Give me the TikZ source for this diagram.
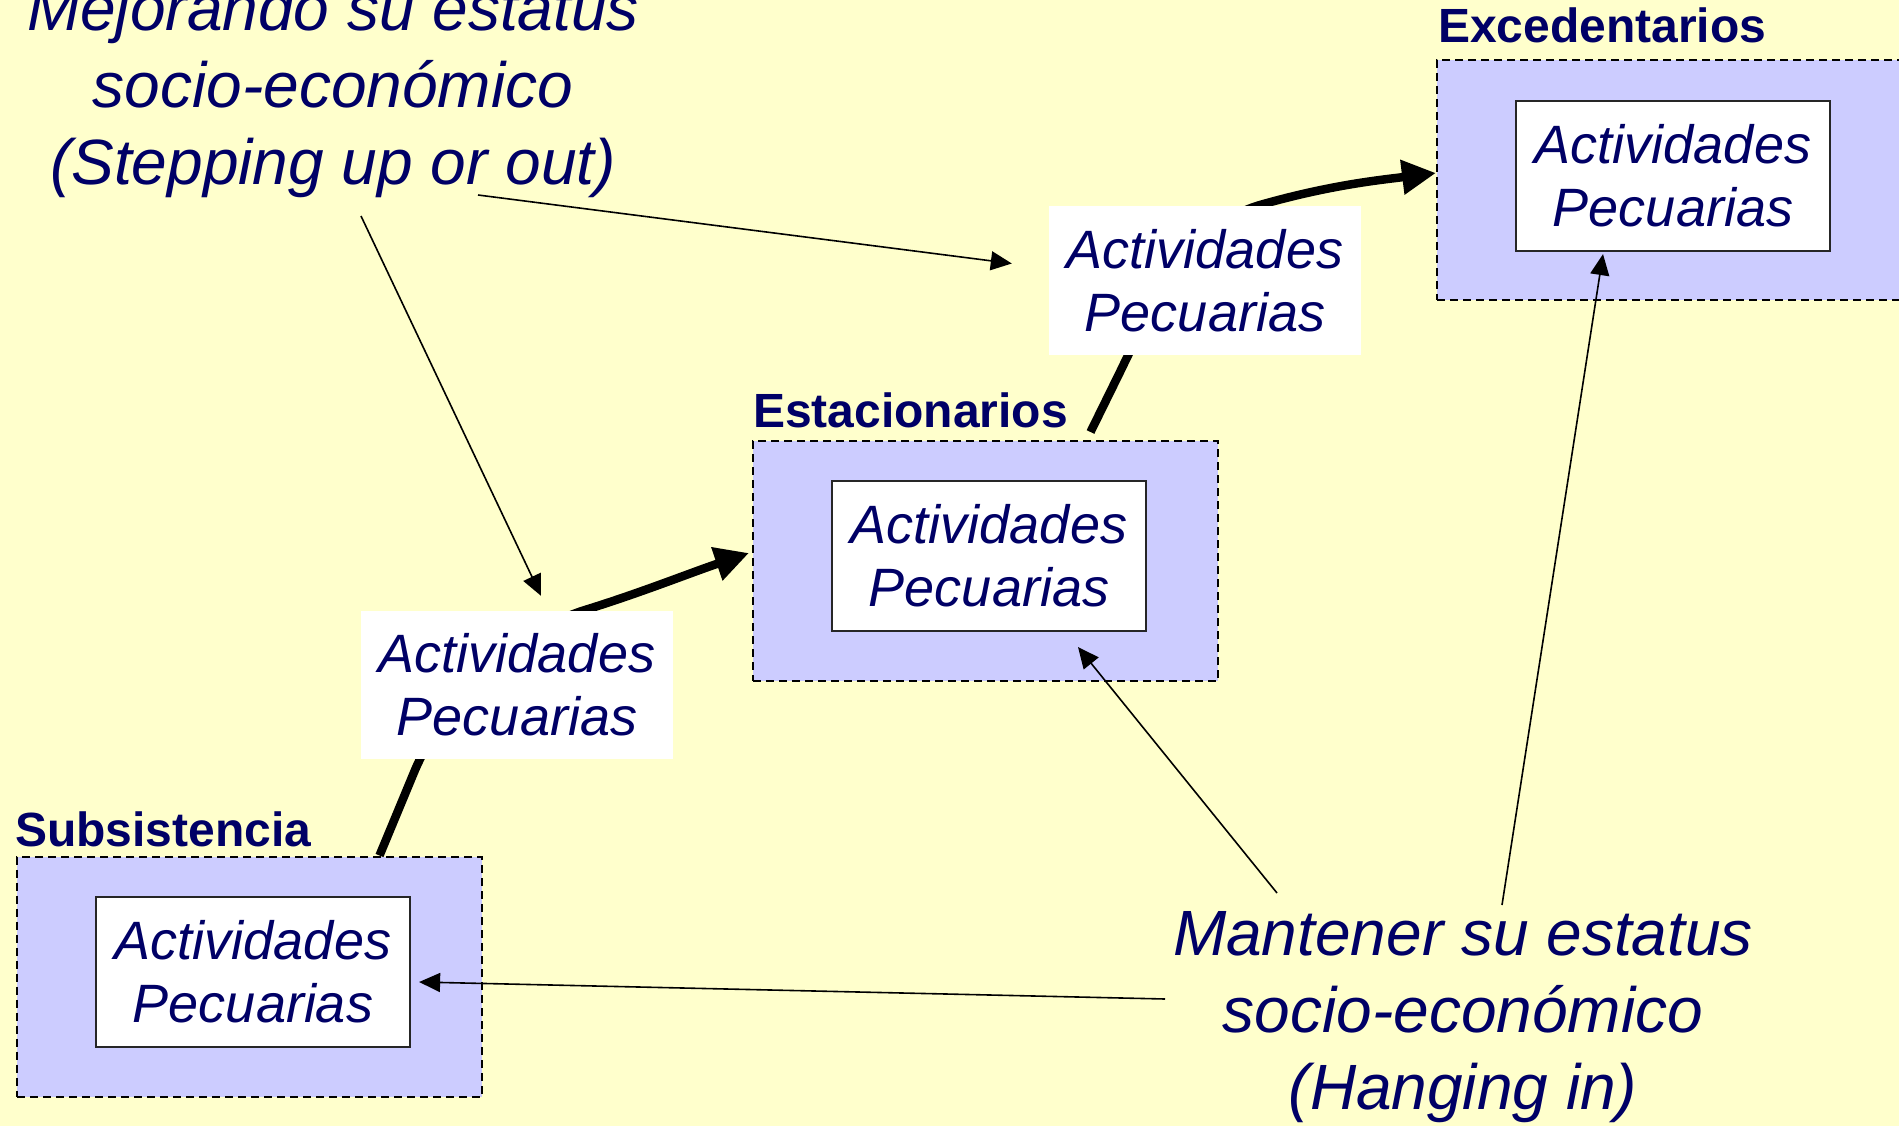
\documentclass[tikz,border=0pt]{standalone}
\usepackage{fontspec}
\setmainfont{Liberation Sans}
\usetikzlibrary{arrows.meta,calc}
\definecolor{bgyellow}{HTML}{FFFFCC}
\definecolor{boxblue}{HTML}{CCCCFF}
\definecolor{txtnavy}{HTML}{000066}
\tikzset{
  outerbox/.style={draw=black, dash pattern=on 8pt off 5pt, line width=2pt, fill=boxblue,
    minimum width=465pt, minimum height=240pt, inner sep=0pt},
  innerbox/.style={draw=black!85, line width=2.2pt, fill=white, minimum width=314pt,
    minimum height=150pt, inner sep=0pt, align=center, text=txtnavy,
    font=\fontsize{54}{63}\selectfont\itshape},
  floatbox/.style={fill=white, minimum width=312pt, minimum height=148pt, inner sep=0pt,
    align=center, text=txtnavy, font=\fontsize{54}{63}\selectfont\itshape},
  grouplabel/.style={anchor=base west, inner sep=0pt, text=txtnavy,
    font=\fontsize{48}{56}\selectfont\bfseries},
  bigtext/.style={align=center, inner sep=0pt, text=txtnavy,
    font=\fontsize{64}{77}\selectfont\itshape},
  thickarrow/.style={line width=8.5pt, -{Triangle[length=34pt,width=33pt]}},
  thinarrow/.style={line width=1.6pt, -{Triangle[length=21pt,width=19pt]}}
}
\begin{document}
\begin{tikzpicture}[x=1pt,y=-1pt]
\useasboundingbox (0,0) rectangle (1899,1126);
\fill[bgyellow] (0,0) rectangle (1899,1126);

% outer group boxes
\node[outerbox] (sub) at (249.5,976.5) {};
\node[outerbox] (est) at (985.5,561) {};
\node[outerbox] (exc) at (1669.5,180) {};

% inner boxes
\node[innerbox] (subin) at (253,972) {Actividades\\Pecuarias};
\node[innerbox] (estin) at (989,556) {Actividades\\Pecuarias};
\node[innerbox] (excin) at (1673,176) {Actividades\\Pecuarias};

% group labels
\node[grouplabel] (lsub) at (15,846) {Subsistencia};
\node[grouplabel] (lest) at (753,427) {Estacionarios};
\node[grouplabel] (lexc) at (1438,43) {Excedentarios};

% thick curved arrows
\coordinate (s1) at ($(sub.north)+(130,0)$);
\coordinate (e1) at ($(est.west)+(-3,-8)$);
\coordinate (s2) at ($(est.north)+(105,-8)$);
\coordinate (e2) at ($(exc.west)+(0,-7)$);
\draw[thickarrow] (s1) -- (415,770) .. controls (445,700) and (520,630) .. (585,610)
  .. controls (640,593) and (690,573) .. (e1);
\draw[thickarrow] (s2) -- (1120,372) .. controls (1150,310) and (1190,225) .. (1260,205)
  .. controls (1330,185) and (1380,180) .. (e2);

% floating boxes
\node[floatbox] (f1) at (517,685) {Actividades\\Pecuarias};
\node[floatbox] (f2) at (1205,280.5) {Actividades\\Pecuarias};

% big texts
\node[bigtext] (mej) at (333,90.7) {Mejorando su estatus\\socio-económico\\(Stepping up or out)};
\node[bigtext] (man) at (1463,1017) {Mantener su estatus\\socio-económico\\(Hanging in)};

% thin arrows
\coordinate (ma) at (361,216);
\coordinate (mb) at (478,195);
\coordinate (mc) at (1165,999);
\coordinate (md) at (1277,893);
\coordinate (me) at (1502,905);
\coordinate (ta) at ($(f1.north)+(24,-15)$);
\coordinate (tb) at ($(f2.west)+(-37,-17)$);
\coordinate (tc) at ($(subin.east)+(8,10)$);
\coordinate (td) at ($(estin.south)+(89,15)$);
\coordinate (te) at ($(excin.south)+(-70,2)$);
\draw[thinarrow] (ma) -- (ta);
\draw[thinarrow] (mb) -- (tb);
\draw[thinarrow] (mc) -- (tc);
\draw[thinarrow] (md) -- (td);
\draw[thinarrow] (me) -- (te);
\end{tikzpicture}
\end{document}
